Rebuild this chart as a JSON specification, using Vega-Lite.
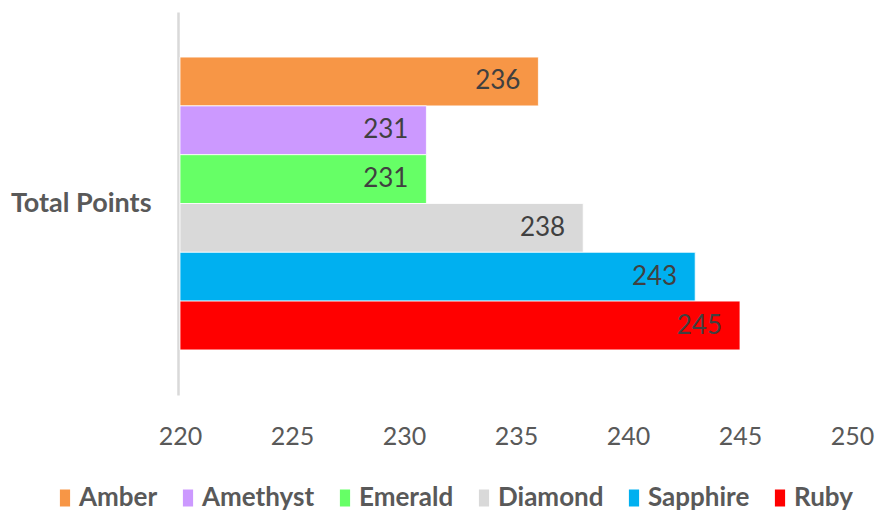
{
  "$schema": "https://vega.github.io/schema/vega-lite/v6.json",
  "width": 672,
  "height": 383,
  "autosize": {"type": "none"},
  "padding": {"left": 180, "top": 12, "right": 25, "bottom": 116},
  "background": "white",
  "config": {"view": {"stroke": null}, "font": "Lato"},
  "data": {"values": [
    {"category": "Total Points", "team": "Amber", "points": 236},
    {"category": "Total Points", "team": "Amethyst", "points": 231},
    {"category": "Total Points", "team": "Emerald", "points": 231},
    {"category": "Total Points", "team": "Diamond", "points": 238},
    {"category": "Total Points", "team": "Sapphire", "points": 243},
    {"category": "Total Points", "team": "Ruby", "points": 245}
  ]},
  "encoding": {
    "y": {"field": "category", "type": "nominal", "title": null,
      "scale": {"paddingInner": 0, "paddingOuter": 0.154},
      "axis": {"ticks": false, "offset": 2, "domainColor": "#d9d9d9", "domainWidth": 2.5, "labelPadding": 27,
        "labelFont": "Lato", "labelFontSize": 27, "labelFontWeight": "bold", "labelColor": "#595959", "labelLimit": 300}},
    "yOffset": {"field": "team", "type": "nominal", "sort": ["Amber", "Amethyst", "Emerald", "Diamond", "Sapphire", "Ruby"]},
    "x": {"field": "points", "type": "quantitative", "title": null,
      "scale": {"domain": [220, 250], "zero": false, "nice": false},
      "axis": {"values": [220, 225, 230, 235, 240, 245, 250], "ticks": false, "domain": false, "grid": false,
        "labelFlush": false, "labelPadding": 29, "labelFont": "Lato", "labelFontSize": 25, "labelColor": "#595959"}}
  },
  "layer": [
    {
      "mark": {"type": "bar", "stroke": "white", "strokeWidth": 0.8},
      "encoding": {
        "x2": {"datum": 220},
        "color": {"field": "team", "type": "nominal",
          "sort": ["Amber", "Amethyst", "Emerald", "Diamond", "Sapphire", "Ruby"],
          "scale": {"domain": ["Amber", "Amethyst", "Emerald", "Diamond", "Sapphire", "Ruby"],
            "range": ["#F79646", "#CC99FF", "#66FF66", "#D9D9D9", "#00B0F0", "#FF0000"]},
          "legend": {"title": null, "orient": "none", "direction": "horizontal", "columns": 6,
            "legendX": -128, "legendY": 473,
            "symbolType": "M-0.6,-1H0.6V1H-0.6Z", "symbolSize": 289, "symbolStrokeWidth": 0,
            "labelFont": "Lato", "labelFontSize": 26, "labelFontWeight": "bold", "labelColor": "#595959",
            "labelOffset": 1, "columnPadding": 17, "labelLimit": 300}}
      }
    },
    {
      "mark": {"type": "text", "align": "right", "baseline": "middle", "dx": -18, "fontSize": 26, "font": "Lato", "color": "#404040"},
      "encoding": {"text": {"field": "points", "type": "quantitative"}}
    }
  ]
}
